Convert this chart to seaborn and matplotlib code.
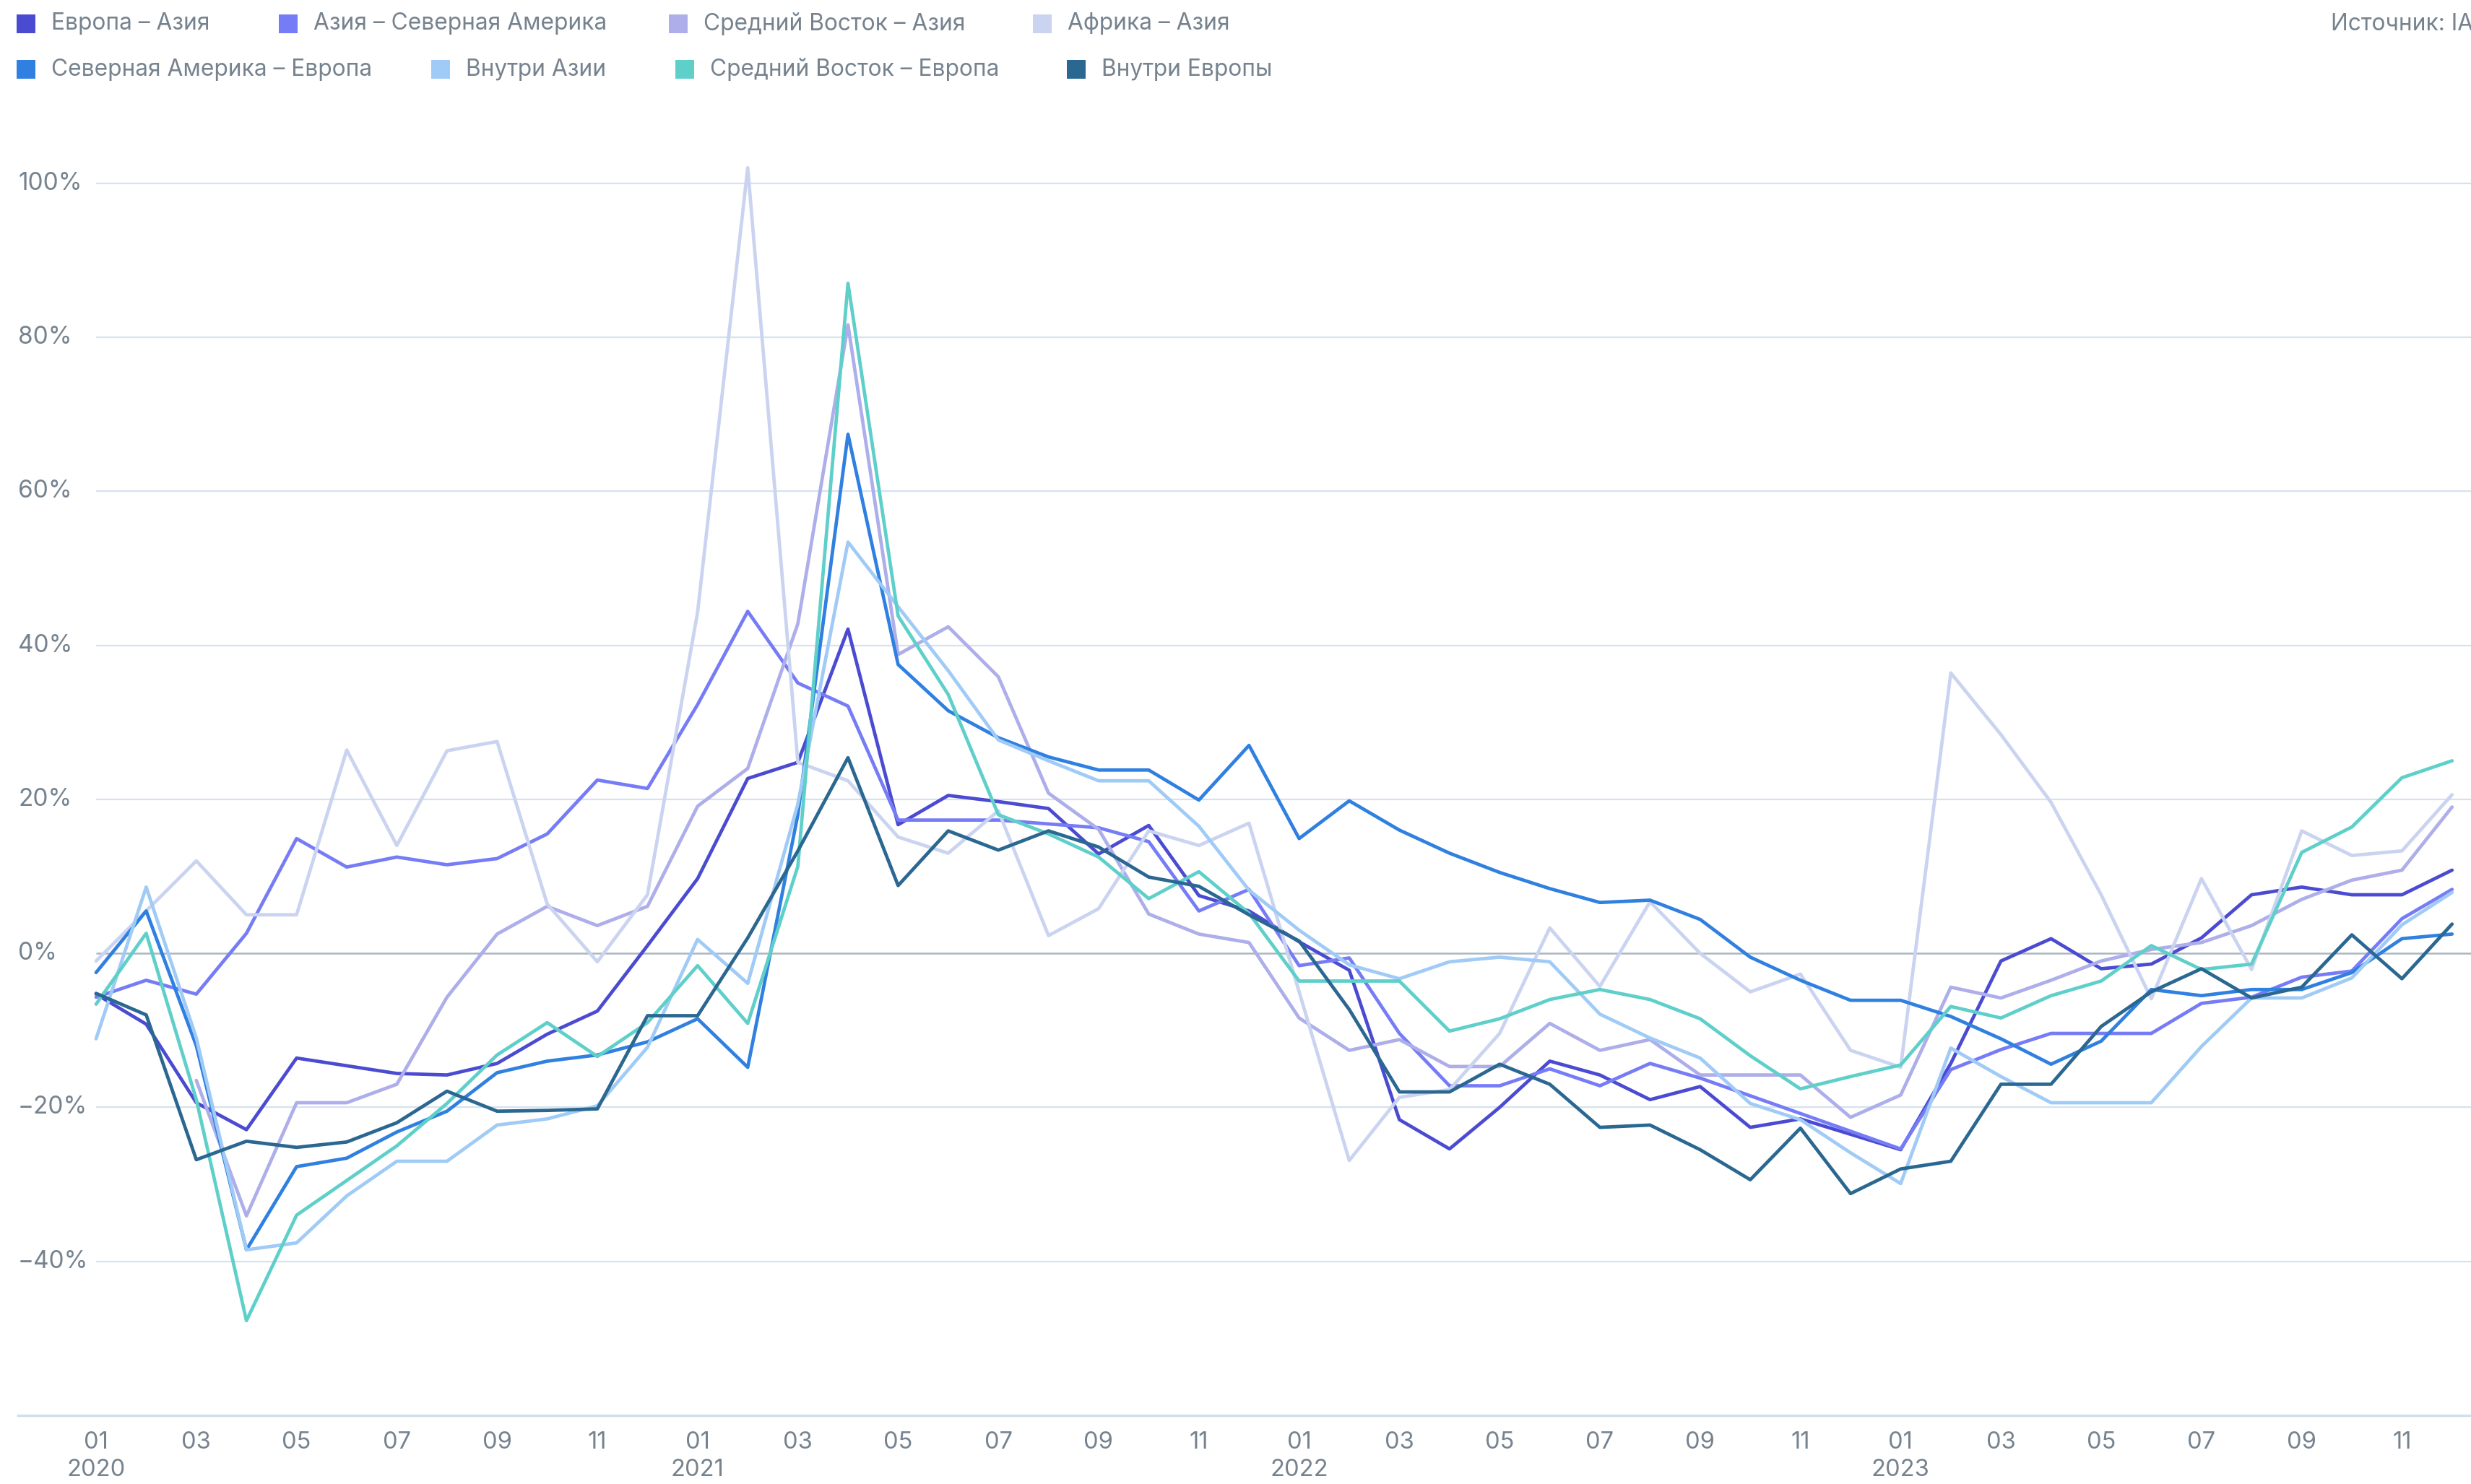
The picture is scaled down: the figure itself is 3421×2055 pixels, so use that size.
import numpy as np
import pandas as pd
import seaborn as sns
import matplotlib.pyplot as plt
from matplotlib.patches import Rectangle

# monthly values, Jan 2020 .. Dec 2023 (% change)
months = list(range(48))
tick_pos = list(range(0, 48, 2))
tick_labels = ["01\n2020", "03", "05", "07", "09", "11",
               "01\n2021", "03", "05", "07", "09", "11",
               "01\n2022", "03", "05", "07", "09", "11",
               "01\n2023", "03", "05", "07", "09", "11"]
y_ticks = [-40, -20, 0, 20, 40, 60, 80, 100]

europe_asia = [-5.3, -9.2, -19.4, -22.9, -13.6, -14.6, -15.6, -15.8, -14.3, -10.5, -7.5, 1.0,
               9.7, 22.7, 24.8, 42.1, 16.7, 20.5, 19.7, 18.8, 12.9, 16.6, 7.5, 5.5,
               1.5, -2.2, -21.6, -25.4, -20.0, -14.0, -15.8, -19.0, -17.3, -22.6, -21.5, -23.5,
               -25.5, -14.3, -1.0, 1.9, -2.0, -1.4, 2.0, 7.6, 8.6, 7.6, 7.6, 10.8]
asia_namerica = [-5.7, -3.5, -5.3, 2.6, 14.9, 11.2, 12.5, 11.5, 12.3, 15.5, 22.5, 21.4,
                 32.3, 44.4, 35.1, 32.1, 17.3, 17.3, 17.3, 16.8, 16.3, 14.5, 5.5, 8.3,
                 -1.6, -0.6, -10.4, -17.2, -17.2, -15.0, -17.2, -14.3, -16.2, -18.5, -20.8, -23.1,
                 -25.4, -15.1, -12.5, -10.4, -10.4, -10.4, -6.5, -5.7, -3.1, -2.3, 4.5, 8.3]
mideast_asia = [np.nan, np.nan, -16.5, -34.1, -19.4, -19.4, -17.0, -5.7, 2.5, 6.1, 3.6, 6.1,
                19.1, 24.0, 42.8, 81.6, 38.8, 42.4, 35.9, 20.8, 16.1, 5.1, 2.5, 1.4,
                -8.4, -12.6, -11.2, -14.7, -14.7, -9.1, -12.6, -11.2, -15.8, -15.8, -15.8, -21.3,
                -18.4, -4.4, -5.8, -3.5, -1.0, 0.5, 1.4, 3.6, 7.0, 9.5, 10.8, 19.0]
africa_asia = [-1.0, 5.5, 12.0, 5.0, 5.0, 26.4, 14.0, 26.3, 27.5, 6.4, -1.1, 7.6,
               44.3, 102.0, 24.8, 22.4, 15.1, 13.0, 18.5, 2.3, 5.8, 15.9, 14.0, 16.9,
               -5.0, -26.9, -18.7, -17.7, -10.4, 3.3, -4.3, 6.7, 0.0, -5.0, -2.7, -12.6,
               -14.8, 36.4, 28.4, 19.6, 7.6, -5.9, 9.7, -2.1, 15.9, 12.7, 13.3, 20.6]
namerica_europe = [-2.5, 5.5, -12.0, -38.5, -27.7, -26.6, -23.2, -20.5, -15.5, -14.0, -13.2, -11.5,
                   -8.5, -14.8, 18.0, 67.4, 37.5, 31.5, 28.0, 25.5, 23.8, 23.8, 19.9, 27.0,
                   14.9, 19.8, 16.0, 13.0, 10.5, 8.4, 6.6, 6.9, 4.4, -0.5, -3.5, -6.1,
                   -6.1, -8.2, -11.1, -14.4, -11.4, -4.7, -5.5, -4.7, -4.7, -2.5, 1.9, 2.5]
within_asia = [-11.1, 8.6, -11.0, -38.5, -37.6, -31.5, -27.0, -27.0, -22.3, -21.5, -19.8, -12.2,
               1.8, -3.9, 19.4, 53.4, 45.0, 36.7, 27.7, 25.0, 22.4, 22.4, 16.5, 8.2,
               3.0, -1.5, -3.3, -1.1, -0.5, -1.1, -7.9, -11.0, -13.6, -19.5, -21.6, -25.9,
               -29.9, -12.3, -16.0, -19.4, -19.4, -19.4, -12.1, -5.8, -5.8, -3.2, 3.7, 7.9]
mideast_europe = [-6.6, 2.6, -19.0, -47.7, -34.0, -29.5, -25.0, -19.5, -13.2, -9.0, -13.4, -9.0,
                  -1.6, -9.1, 11.3, 87.0, 43.8, 33.6, 18.0, 15.5, 12.5, 7.1, 10.6, 5.2,
                  -3.6, -3.6, -3.6, -10.1, -8.5, -6.0, -4.7, -6.0, -8.5, -13.3, -17.6, -16.0,
                  -14.5, -6.9, -8.4, -5.5, -3.6, 1.0, -2.1, -1.4, 13.1, 16.4, 22.8, 25.0]
within_europe = [-5.2, -8.0, -26.8, -24.4, -25.2, -24.5, -22.0, -17.9, -20.5, -20.4, -20.2, -8.1,
                 -8.1, 2.0, 13.3, 25.4, 8.8, 15.9, 13.4, 15.9, 13.8, 9.9, 8.7, 5.0,
                 1.6, -7.3, -18.0, -18.0, -14.4, -17.0, -22.6, -22.3, -25.5, -29.4, -22.7, -31.2,
                 -28.0, -27.0, -17.0, -17.0, -9.5, -5.0, -2.0, -5.8, -4.4, 2.4, -3.3, 3.8]

names = ["Европа – Азия", "Азия – Северная Америка", "Средний Восток – Азия", "Африка – Азия",
         "Северная Америка – Европа", "Внутри Азии", "Средний Восток – Европа", "Внутри Европы"]
values = [europe_asia, asia_namerica, mideast_asia, africa_asia,
          namerica_europe, within_asia, mideast_europe, within_europe]
colors = ["#4b4bd2", "#767cf6", "#adaeea", "#cad4f0",
          "#2f80e0", "#9fcbf6", "#5fcfca", "#2a6791"]
palette = dict(zip(names, colors))

df = pd.concat([pd.DataFrame({"month": months, "value": v, "route": n})
                for n, v in zip(names, values)], ignore_index=True)

sns.set_style("white")
plt.rcParams["font.family"] = ["Inter", "DejaVu Sans"]
text_color = "#76838f"

W, H = 3421, 2055
fig = plt.figure(figsize=(W / 100, H / 100), dpi=100)
ax = fig.add_axes([25 / W, 1 - 1960 / H, (W - 25) / W, (1960 - 147) / H])

x_left = (25 - 133) / 69.4
x_right = (W - 133) / 69.4

# grid
ax.hlines([v for v in y_ticks if v != 0], 0, x_right, color="#d4e3ef", lw=1.6, zorder=0)
ax.hlines([0], 0, x_right, color="#a9b7c1", lw=1.8, zorder=0)

sns.lineplot(data=df, x="month", y="value", hue="route", hue_order=names,
             palette=palette, linewidth=3.4, estimator=None, legend=False, ax=ax)

ax.set_xlim(x_left, x_right)
ax.set_ylim(-60, 110)
ax.set_xlabel("")
ax.set_ylabel("")
for s in ["top", "right", "left"]:
    ax.spines[s].set_visible(False)
ax.spines["bottom"].set_color("#cfe0ee")
ax.spines["bottom"].set_linewidth(2.5)

ax.set_xticks(tick_pos)
ax.set_xticklabels(tick_labels, fontsize=23.5, color=text_color, linespacing=1.3)
ax.tick_params(axis="x", length=0, pad=16)
ax.set_yticks([])
for v in y_ticks:
    ax.text(0, v, f"{v}%".replace("-", "−"), transform=ax.get_yaxis_transform(),
            ha="left", va="center", fontsize=24, color=text_color)

# legend, laid out like the source
sq = 26
legend_pos = [(23, 33), (386, 33), (926, 33), (1430, 33),
              (23, 96), (597, 96), (935, 96), (1477, 96)]
for (px, py), n, c in zip(legend_pos, names, colors):
    fig.add_artist(Rectangle((px / W, 1 - (py + sq / 2) / H), sq / W, sq / H,
                             transform=fig.transFigure, color=c, lw=0))
    fig.text((px + 48) / W, 1 - py / H, n, ha="left", va="center",
             fontsize=22.8, color=text_color)

# source note runs off the right edge, as in the original
fig.text(3227 / W, 1 - 33 / H, "Источник: IATA", ha="left", va="center",
         fontsize=22.8, color=text_color)

fig.savefig("out.png", dpi=100)
